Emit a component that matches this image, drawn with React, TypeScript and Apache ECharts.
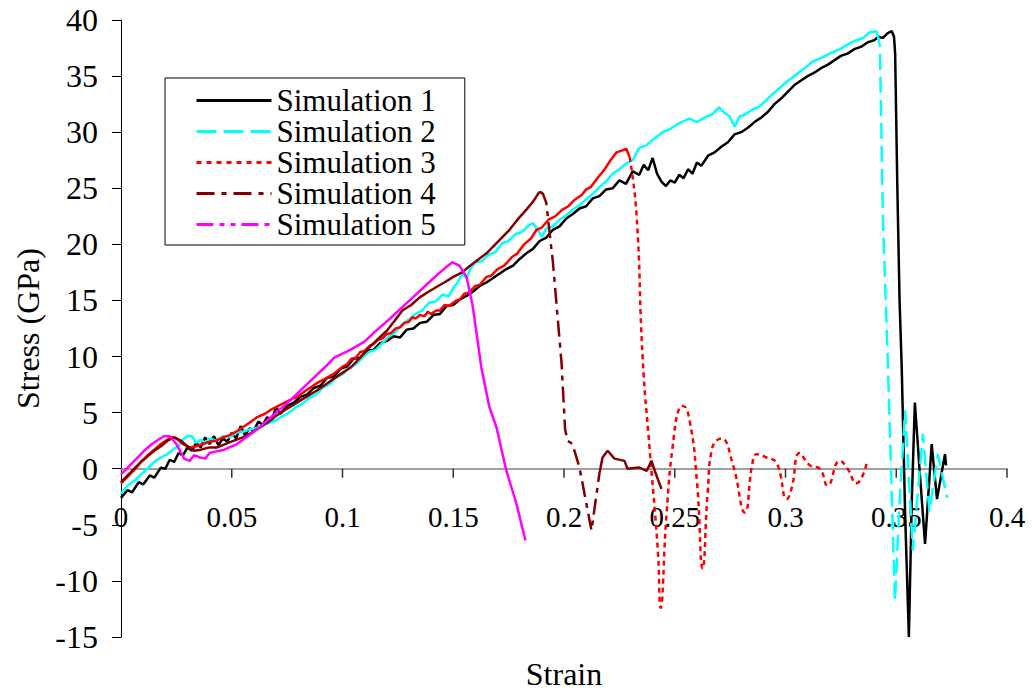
import React, { useEffect, useRef } from 'react';
import * as echarts from 'echarts';

type Pt = [number, number];

const seriesNames = ['Simulation 1', 'Simulation 2', 'Simulation 3', 'Simulation 4', 'Simulation 5'];
const seriesColors = ['#000000', '#00FFFF', '#FF0000', '#800000', '#FF00FF'];

const xMin = 0, xMax = 0.4, xStep = 0.05;
const yMin = -15, yMax = 40, yStep = 5;
const xTickValues = [0.05, 0.1, 0.15, 0.2, 0.25, 0.3, 0.35, 0.4];

// Simulation 1 (black, solid)
const sim1: Pt[] = [
  [0, -2.6], [0.003, -1.9], [0.005, -2.1], [0.008, -1.2], [0.010, -1.4], [0.013, -0.6], [0.015, -0.8], [0.018, 0.1],
  [0.020, 0.0], [0.022, 0.8], [0.024, 0.6], [0.026, 1.4], [0.028, 1.2], [0.030, 1.9], [0.032, 1.6], [0.034, 2.3],
  [0.036, 1.9], [0.038, 2.8], [0.040, 2.2], [0.042, 2.9], [0.044, 2.1], [0.046, 2.7], [0.048, 2.4], [0.050, 3.2],
  [0.052, 2.7], [0.054, 3.8], [0.056, 3.0], [0.058, 3.6], [0.060, 3.4], [0.062, 4.2], [0.064, 3.9], [0.066, 4.6],
  [0.068, 4.3], [0.070, 5.5], [0.072, 4.9], [0.075, 5.6], [0.078, 5.9], [0.081, 6.4], [0.084, 6.6], [0.087, 7.2],
  [0.090, 7.4], [0.093, 8.1], [0.096, 8.2], [0.099, 8.9], [0.102, 9.1], [0.105, 9.8], [0.108, 9.9], [0.111, 10.5],
  [0.114, 10.6], [0.117, 11.2], [0.120, 11.4], [0.123, 11.8], [0.126, 11.7], [0.129, 12.4], [0.132, 12.5], [0.135, 13.0],
  [0.138, 13.1], [0.141, 13.7], [0.144, 13.8], [0.147, 14.5], [0.150, 14.6], [0.153, 15.1], [0.156, 15.4], [0.159, 15.8],
  [0.162, 16.3], [0.165, 16.6], [0.168, 17.0], [0.171, 17.4], [0.174, 17.8], [0.177, 18.1], [0.180, 18.7], [0.183, 19.2],
  [0.186, 19.6], [0.189, 20.3], [0.192, 20.6], [0.195, 21.3], [0.198, 21.6], [0.201, 22.3], [0.204, 22.7], [0.207, 23.2],
  [0.210, 23.4], [0.213, 24.1], [0.216, 24.3], [0.219, 24.9], [0.222, 25.0], [0.225, 25.7], [0.228, 25.4], [0.231, 26.5],
  [0.234, 26.2], [0.236, 27.1], [0.238, 26.6], [0.240, 27.7], [0.242, 26.3], [0.244, 25.6], [0.246, 25.2], [0.248, 25.7],
  [0.250, 25.5], [0.252, 26.2], [0.254, 25.9], [0.256, 26.7], [0.258, 26.3], [0.260, 27.3], [0.262, 27.0], [0.265, 27.9],
  [0.268, 28.2], [0.271, 28.7], [0.274, 29.1], [0.277, 29.8], [0.280, 30.0], [0.283, 30.4], [0.286, 30.9], [0.289, 31.3],
  [0.292, 31.8], [0.295, 32.5], [0.298, 33.0], [0.301, 33.6], [0.304, 34.2], [0.307, 34.6], [0.310, 35.0], [0.313, 35.3],
  [0.316, 35.7], [0.319, 36.0], [0.322, 36.4], [0.325, 36.8], [0.328, 37.0], [0.331, 37.4], [0.334, 37.6], [0.337, 38.0],
  [0.340, 38.2], [0.342, 38.5], [0.344, 38.4], [0.346, 38.8], [0.348, 39.0], [0.349, 38.5], [0.3495, 37.0], [0.3505, 25.0],
  [0.3515, 15.0], [0.3525, 8.8], [0.354, -4.0], [0.3557, -15.0], [0.357, -3.0], [0.3584, 5.9], [0.3605, 0.0], [0.363, -6.7],
  [0.366, 2.2], [0.3684, -2.7], [0.372, 1.3], [0.3725, 0.3],
];

// Simulation 2 (cyan, dashed)
const sim2Rise: Pt[] = [
  [0, -2.2], [0.003, -1.5], [0.006, -1.1], [0.009, -0.5], [0.012, 0.0], [0.015, 0.6], [0.018, 1.0], [0.021, 1.3],
  [0.024, 1.8], [0.026, 2.0], [0.028, 2.6], [0.030, 2.9], [0.032, 2.9], [0.034, 2.3], [0.036, 2.6], [0.038, 2.3],
  [0.040, 2.7], [0.043, 2.5], [0.046, 2.9], [0.049, 2.8], [0.052, 3.2], [0.055, 3.3], [0.058, 3.5], [0.061, 3.6],
  [0.064, 3.9], [0.067, 4.1], [0.070, 4.3], [0.073, 4.7], [0.076, 5.0], [0.079, 5.5], [0.082, 5.8], [0.085, 6.3],
  [0.088, 6.6], [0.091, 7.2], [0.094, 7.5], [0.097, 8.1], [0.100, 8.4], [0.103, 9.0], [0.106, 9.3], [0.109, 9.9],
  [0.112, 10.4], [0.115, 10.6], [0.118, 11.2], [0.121, 11.8], [0.124, 12.2], [0.127, 12.9], [0.130, 13.3], [0.133, 13.8],
  [0.136, 14.1], [0.139, 14.8], [0.142, 14.9], [0.145, 15.5], [0.148, 15.4], [0.150, 16.1], [0.152, 16.6], [0.154, 17.4],
  [0.156, 17.0], [0.158, 17.9], [0.160, 18.4], [0.163, 18.5], [0.166, 19.1], [0.169, 19.3], [0.172, 20.1], [0.175, 20.3],
  [0.178, 20.9], [0.181, 21.1], [0.184, 21.7], [0.186, 21.9], [0.188, 21.3], [0.190, 20.7], [0.192, 21.4], [0.195, 21.6],
  [0.198, 22.2], [0.201, 22.6], [0.204, 23.1], [0.207, 23.5], [0.210, 24.0], [0.213, 24.5], [0.216, 25.1], [0.219, 25.6],
  [0.222, 26.3], [0.225, 26.7], [0.228, 27.2], [0.231, 27.5], [0.234, 28.6], [0.237, 28.8], [0.240, 29.3], [0.2445, 30.0],
  [0.248, 30.3], [0.252, 30.8], [0.2567, 31.2], [0.260, 30.9], [0.2644, 31.4], [0.267, 31.6], [0.270, 32.2], [0.272, 31.8],
  [0.2748, 31.4], [0.277, 30.5], [0.2793, 31.4], [0.282, 31.6], [0.285, 32.0], [0.2884, 32.3], [0.292, 33.0], [0.296, 33.7],
  [0.3006, 34.5], [0.304, 35.0], [0.308, 35.6], [0.3123, 36.3], [0.316, 36.6], [0.320, 37.0], [0.3245, 37.4], [0.328, 37.8],
  [0.332, 38.2], [0.335, 38.4], [0.338, 38.9], [0.3412, 39.0],
];
const sim2Fall: Pt[] = [
  [0.3412, 39.0], [0.3426, 37.7], [0.344, 22.2], [0.3463, 8.8], [0.3494, -11.8], [0.3515, -3.0], [0.354, 5.2],
  [0.3575, -7.3], [0.362, 3.1], [0.365, -3.8], [0.3688, 1.3], [0.3706, -0.4], [0.373, -2.6],
];

// Simulation 3 (red, dotted)
const sim3Rise: Pt[] = [
  [0, -1.3], [0.003, -0.7], [0.006, -0.1], [0.009, 0.6], [0.012, 1.2], [0.015, 1.7], [0.018, 2.2], [0.021, 2.6],
  [0.023, 2.8], [0.025, 2.7], [0.028, 2.2], [0.031, 1.9], [0.034, 2.0], [0.037, 2.2], [0.040, 2.4], [0.043, 2.5],
  [0.046, 2.8], [0.049, 3.0], [0.052, 3.3], [0.055, 3.7], [0.058, 4.1], [0.0615, 4.6], [0.065, 4.9], [0.068, 5.3],
  [0.071, 5.6], [0.074, 5.9], [0.077, 6.2], [0.0795, 6.4], [0.083, 6.9], [0.086, 7.3], [0.089, 7.7], [0.092, 8.0],
  [0.0963, 8.5], [0.100, 9.1], [0.102, 9.3], [0.104, 9.8], [0.106, 9.9], [0.108, 10.4], [0.110, 10.5], [0.1125, 11.0],
  [0.114, 11.1], [0.116, 11.5], [0.118, 11.6], [0.120, 12.0], [0.122, 12.1], [0.124, 12.5], [0.126, 12.6], [0.128, 13.0],
  [0.130, 13.1], [0.1315, 13.5], [0.133, 13.4], [0.135, 13.7], [0.137, 13.6], [0.1385, 14.0], [0.140, 13.8], [0.1424, 14.1],
  [0.144, 14.1], [0.146, 14.6], [0.148, 14.5], [0.1514, 15.0], [0.153, 15.1], [0.155, 15.6], [0.157, 15.7], [0.160, 16.3],
  [0.162, 16.4], [0.165, 17.1], [0.167, 17.2], [0.170, 17.8], [0.173, 18.1], [0.1767, 18.9], [0.179, 19.2], [0.182, 20.0],
  [0.185, 20.5], [0.1876, 21.3], [0.190, 21.5], [0.193, 22.2], [0.196, 22.5], [0.1993, 23.1], [0.202, 23.4], [0.205, 24.0],
  [0.208, 24.4], [0.210, 24.9], [0.212, 25.1], [0.2147, 25.8], [0.218, 26.6], [0.221, 27.5], [0.2237, 28.2], [0.2282, 28.5],
  [0.2296, 27.8],
];
const sim3Fall: Pt[] = [
  [0.2296, 27.8], [0.2327, 22.8], [0.2355, 9.9], [0.2386, 1.9], [0.2423, -7.1], [0.2436, -12.4], [0.2463, -4.0],
  [0.249, 1.9], [0.2522, 5.5], [0.2536, 5.6], [0.2567, 4.3], [0.260, -1.1], [0.2626, -8.9], [0.2649, -2.0], [0.267, 1.9],
  [0.271, 2.7], [0.2762, 0.4], [0.2816, -3.9], [0.285, 0.4], [0.287, 1.3], [0.2915, 1.0], [0.296, 0.5], [0.3006, -2.7],
  [0.3028, -1.7], [0.3064, 1.4], [0.311, 0.3], [0.3155, 0.0], [0.319, -1.5], [0.3245, 0.7], [0.328, 0.0], [0.332, -1.3],
  [0.3367, 0.5],
];

// Simulation 4 (dark red, dash-dot)
const sim4Rise: Pt[] = [
  [0, -1.2], [0.003, -0.6], [0.006, 0.0], [0.009, 0.6], [0.012, 1.1], [0.015, 1.6], [0.018, 2.0], [0.021, 2.5],
  [0.024, 2.8], [0.027, 2.5], [0.030, 2.0], [0.033, 1.6], [0.036, 1.7], [0.040, 1.9], [0.0434, 1.9], [0.047, 2.2],
  [0.051, 2.5], [0.055, 2.8], [0.058, 3.1], [0.062, 3.6], [0.066, 4.1], [0.070, 4.7], [0.0737, 5.2], [0.078, 5.7],
  [0.082, 6.2], [0.0886, 7.0], [0.093, 7.6], [0.098, 8.3], [0.1035, 9.0], [0.108, 9.9], [0.112, 10.8], [0.1157, 11.5],
  [0.120, 12.3], [0.124, 13.3], [0.127, 14.1], [0.131, 14.6], [0.135, 15.3], [0.139, 15.8], [0.1424, 16.2], [0.146, 16.6],
  [0.150, 17.1], [0.154, 17.5], [0.157, 18.0], [0.161, 18.6], [0.165, 19.2], [0.170, 20.2], [0.1754, 21.3], [0.179, 22.2],
  [0.183, 23.1], [0.186, 23.8], [0.189, 24.7],
];
const sim4Fall: Pt[] = [
  [0.189, 24.7], [0.1905, 24.5], [0.192, 23.7], [0.195, 18.4], [0.1989, 9.4], [0.1993, 7.9], [0.2005, 3.5],
  [0.2016, 2.5], [0.2038, 2.2], [0.207, 0.1], [0.2124, -5.5], [0.216, -0.4],
];
const sim4Tail: Pt[] = [
  [0.216, -0.4], [0.2174, 1.0], [0.2197, 1.6], [0.2228, 0.9], [0.2273, 0.7], [0.2287, 0.0], [0.2341, 0.1],
  [0.2373, -0.2], [0.2395, 0.7], [0.241, -0.2], [0.244, -1.8],
];

// Simulation 5 (magenta, dash-dot-dot)
const sim5: Pt[] = [
  [0, -0.5], [0.004, 0.3], [0.008, 1.1], [0.0104, 1.6], [0.014, 2.2], [0.017, 2.6], [0.0194, 2.9], [0.022, 2.9],
  [0.025, 2.2], [0.0285, 0.9], [0.031, 0.7], [0.033, 1.2], [0.0357, 1.0], [0.038, 0.9], [0.040, 1.4], [0.042, 1.5],
  [0.0466, 1.7], [0.0524, 2.2], [0.058, 3.0], [0.062, 3.6], [0.066, 4.3], [0.070, 5.0], [0.0737, 5.6], [0.078, 6.4],
  [0.0827, 7.3], [0.087, 8.1], [0.0918, 9.0], [0.0963, 9.9], [0.1035, 10.6], [0.1098, 11.3], [0.1157, 12.4], [0.121, 13.3],
  [0.127, 14.4], [0.133, 15.5], [0.139, 16.6], [0.144, 17.5], [0.147, 18.0], [0.1496, 18.4], [0.1528, 18.1], [0.156, 17.1],
  [0.1587, 14.6], [0.1627, 9.0], [0.1663, 5.5], [0.1695, 3.7], [0.174, -0.2], [0.1785, -3.1], [0.1826, -6.4],
];

const legendDash: (string | number[])[] = ['solid', [20, 7], [5, 5], [18, 7, 5, 7], [17, 6, 5, 6, 5, 6]];

const FONT = "'Liberation Serif', 'Times New Roman', serif";

function line(name: string, color: string, data: Pt[], type: any, smooth = false) {
  return {
    type: 'line',
    name,
    data,
    showSymbol: false,
    symbol: 'none',
    smooth,
    silent: true,
    lineStyle: { color, width: 2.5, type },
    itemStyle: { color },
    emphasis: { disabled: true },
  };
}

export default function App() {
  const ref = useRef<HTMLDivElement>(null);
  useEffect(() => {
    document.body.style.margin = '0';
    if (!ref.current) return;
    const chart = echarts.init(ref.current, undefined, { renderer: 'svg' });
    chart.setOption({
      animation: false,
      backgroundColor: '#ffffff',
      textStyle: { fontFamily: FONT },
      grid: { left: 121, right: 29, top: 20, bottom: 57, containLabel: false, outerBoundsMode: 'none' },
      legend: {
        orient: 'vertical',
        left: 165,
        top: 78,
        padding: [7, 29, 5, 30],
        itemWidth: 75,
        itemHeight: 14,
        itemGap: 0,
        borderColor: '#000',
        borderWidth: 1,
        backgroundColor: '#fff',
        selectedMode: false,
        itemStyle: { opacity: 0 },
        textStyle: { fontFamily: FONT, fontSize: 31, color: '#000' },
        data: seriesNames.map((n, i) => ({
          name: n,
          itemStyle: { opacity: 0 },
          lineStyle: { type: legendDash[i], width: 3, color: seriesColors[i], opacity: 1 },
        })),
      },
      xAxis: {
        type: 'value',
        min: xMin,
        max: xMax,
        interval: xStep,
        name: 'Strain',
        nameLocation: 'middle',
        nameGap: 21,
        nameTextStyle: { fontFamily: FONT, fontSize: 32, color: '#000' },
        axisLine: { onZero: true, lineStyle: { color: '#808080', width: 1.5 } },
        axisTick: { show: false },
        axisLabel: { margin: -135, fontFamily: FONT, fontSize: 29, color: '#000', showMinLabel: true, showMaxLabel: true },
        splitLine: { show: false },
      },
      yAxis: {
        type: 'value',
        min: yMin,
        max: yMax,
        interval: yStep,
        name: 'Stress (GPa)',
        nameLocation: 'middle',
        nameGap: 76,
        nameTextStyle: { fontFamily: FONT, fontSize: 32, color: '#000' },
        axisLine: { show: true, onZero: false, lineStyle: { color: '#000', width: 1 } },
        axisTick: { show: true, length: 9, lineStyle: { color: '#000', width: 1 } },
        axisLabel: { margin: 23, fontFamily: FONT, fontSize: 32, color: '#000' },
        splitLine: { show: false },
      },
      series: [
        {
          type: 'custom',
          name: 'xTicks',
          silent: true,
          clip: false,
          z: 10,
          data: xTickValues.map((v) => [v, 0]),
          encode: { x: 0, y: 1 },
          renderItem: (params: any, api: any) => {
            const p = api.coord([api.value(0), api.value(1)]);
            return {
              type: 'line',
              shape: { x1: p[0], y1: p[1], x2: p[0], y2: p[1] + 9 },
              style: { stroke: '#333333', lineWidth: 1.5 },
            };
          },
        },
        line(seriesNames[0], seriesColors[0], sim1, 'solid'),
        line(seriesNames[1], seriesColors[1], sim2Rise, 'solid'),
        line(seriesNames[1], seriesColors[1], sim2Fall, [16, 7]),
        line(seriesNames[2], seriesColors[2], sim3Rise, 'solid'),
        line(seriesNames[2], seriesColors[2], sim3Fall, [5, 4], true),
        line(seriesNames[3], seriesColors[3], sim4Rise, 'solid'),
        line(seriesNames[3], seriesColors[3], sim4Fall, [16, 6, 5, 6]),
        line(seriesNames[3], seriesColors[3], sim4Tail, 'solid'),
        line(seriesNames[4], seriesColors[4], sim5, 'solid'),
      ],
    });
    return () => chart.dispose();
  }, []);
  return <div ref={ref} style={{ width: 1036, height: 694 }} />;
}
